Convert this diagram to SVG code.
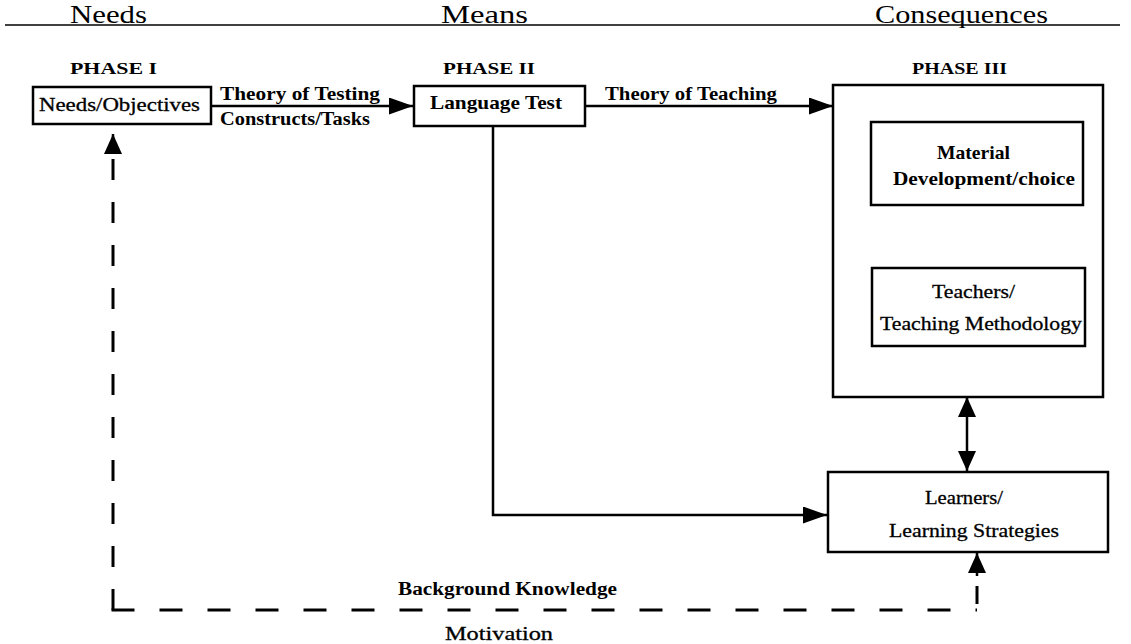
<svg xmlns="http://www.w3.org/2000/svg" width="1131" height="644" viewBox="0 0 1131 644">
<style>
text{font-family:"Liberation Serif","Times New Roman",serif;fill:#000}
.hd{font-size:25px}
.ph{font-size:17px;font-weight:bold}
.bx{font-size:19px;font-weight:bold}
.rg{font-size:19px;stroke:#000;stroke-width:0.3}
.lb{font-size:18px;font-weight:bold}
.box{fill:#fff;stroke:#000;stroke-width:2.5}
.ln{fill:none;stroke:#000;stroke-width:2.5}
.ds{fill:none;stroke:#000;stroke-width:3}
</style>
<defs>
<marker id="ah" viewBox="0 0 10 10" refX="10" refY="5" markerWidth="24" markerHeight="17" markerUnits="userSpaceOnUse" orient="auto-start-reverse" preserveAspectRatio="none">
<path d="M0,0 L10,5 L0,10 Z" fill="#000"/>
</marker>
<marker id="av" viewBox="0 0 10 10" refX="10" refY="5" markerWidth="20" markerHeight="18" markerUnits="userSpaceOnUse" orient="auto-start-reverse" preserveAspectRatio="none">
<path d="M0,0 L10,5 L0,10 Z" fill="#000"/>
</marker>
</defs>

<g id="header">
<line x1="5" y1="25" x2="1120" y2="25" stroke="#000" stroke-width="1.5"/>
<text class="hd" x="70" y="23" textLength="77" lengthAdjust="spacingAndGlyphs">Needs</text>
<text class="hd" x="441" y="23" textLength="87" lengthAdjust="spacingAndGlyphs">Means</text>
<text class="hd" x="875" y="23" textLength="173" lengthAdjust="spacingAndGlyphs">Consequences</text>
<text class="ph" x="70" y="74" textLength="87" lengthAdjust="spacingAndGlyphs">PHASE I</text>
<text class="ph" x="443" y="74" textLength="92" lengthAdjust="spacingAndGlyphs">PHASE II</text>
<text class="ph" x="912" y="74" textLength="95" lengthAdjust="spacingAndGlyphs">PHASE III</text>
</g>

<g id="connectors">
<line class="ln" x1="211" y1="106" x2="413" y2="106" marker-end="url(#ah)"/>
<line class="ln" x1="585" y1="106" x2="833" y2="106" marker-end="url(#ah)"/>
<line class="ln" x1="972" y1="205" x2="972" y2="267" marker-end="url(#av)"/>
<line class="ln" x1="967" y1="397" x2="967" y2="471" marker-start="url(#av)" marker-end="url(#av)"/>
<polyline class="ln" points="493,126 493,515 827,515" marker-end="url(#ah)"/>
<path class="ds" d="M113,610 V148" stroke-dasharray="21 22"/>
<line class="ln" x1="113" y1="148" x2="113" y2="134" marker-end="url(#av)"/>
<path class="ds" d="M111.5,610 H977" stroke-dasharray="23 25"/>
<line class="ds" x1="977" y1="604" x2="977" y2="586"/>
<line class="ln" x1="977" y1="576" x2="977" y2="553" marker-end="url(#av)"/>
<text class="lb" x="220" y="100" textLength="160" lengthAdjust="spacingAndGlyphs">Theory of Testing</text>
<text class="lb" x="220" y="125" textLength="150" lengthAdjust="spacingAndGlyphs">Constructs/Tasks</text>
<text class="lb" x="605" y="100" textLength="172" lengthAdjust="spacingAndGlyphs">Theory of Teaching</text>
<text class="lb" x="398" y="595" textLength="219" lengthAdjust="spacingAndGlyphs">Background Knowledge</text>
<text class="rg" x="445" y="640" font-size="18" textLength="108" lengthAdjust="spacingAndGlyphs">Motivation</text>
</g>

<g id="needs">
<rect class="box" x="33" y="87" width="178" height="37"/>
<text class="rg" x="39" y="111" textLength="161" lengthAdjust="spacingAndGlyphs">Needs/Objectives</text>
</g>

<g id="test">
<rect class="box" x="414" y="86" width="171" height="40"/>
<text class="bx" x="430" y="109" textLength="132" lengthAdjust="spacingAndGlyphs">Language Test</text>
</g>

<g id="phase3">
<rect class="box" x="833" y="85" width="270" height="312"/>
</g>

<g id="material">
<rect class="box" x="871" y="122" width="212" height="83"/>
<text class="bx" x="937" y="159" textLength="73" lengthAdjust="spacingAndGlyphs">Material</text>
<text class="bx" x="893" y="185" textLength="182" lengthAdjust="spacingAndGlyphs">Development/choice</text>
</g>

<g id="teachers">
<rect class="box" x="872" y="268" width="213" height="78"/>
<text class="rg" x="932" y="298" textLength="83" lengthAdjust="spacingAndGlyphs">Teachers/</text>
<text class="rg" x="880" y="330" textLength="202" lengthAdjust="spacingAndGlyphs">Teaching Methodology</text>
</g>

<g id="learners">
<rect class="box" x="828" y="472" width="280" height="80"/>
<text class="rg" x="925" y="504" textLength="78" lengthAdjust="spacingAndGlyphs">Learners/</text>
<text class="rg" x="889" y="537" textLength="170" lengthAdjust="spacingAndGlyphs">Learning Strategies</text>
</g>
</svg>
